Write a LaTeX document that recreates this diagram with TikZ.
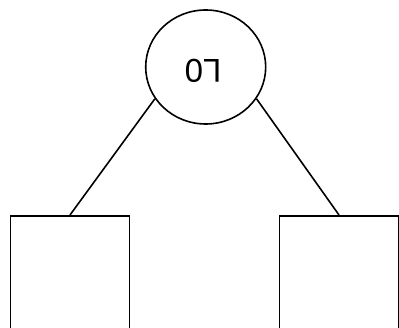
\documentclass[tikz,border=0pt]{standalone}
\usepackage{fontspec}
\setmainfont{Liberation Sans}
\usetikzlibrary{shapes.geometric}
\begin{document}
\begin{tikzpicture}[x=1pt,y=-1pt, line width=1.6pt,
  rootnode/.style={draw, ellipse, minimum width=120pt, minimum height=114pt, inner sep=0pt},
  leafbox/.style={draw, rectangle, minimum width=119pt, minimum height=140pt, anchor=north, inner sep=0pt},
  edge/.style={draw}]
\useasboundingbox (0,0) rectangle (399,328);
\clip (0,0) rectangle (399,328);
\fill[white] (0,0) rectangle (399,328);
\node[rootnode] (root) at (205.7,67) {};
\node[rotate=180, inner sep=0pt, font=\fontsize{33}{33}\selectfont] (lbl) at (203,71) {L0};
\node[leafbox] (left) at (70,215) {};
\node[leafbox] (right) at (339,215) {};
\draw[edge] (root.212) -- (left.north);
\draw[edge] (root.328) -- (right.north);
\end{tikzpicture}
\end{document}
